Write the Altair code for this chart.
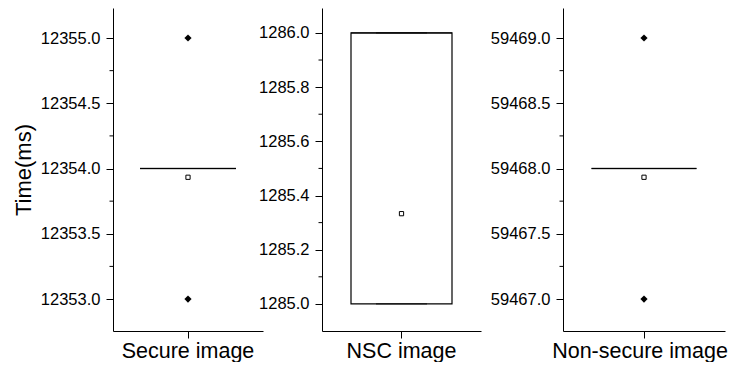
import altair as alt
import pandas as pd

# ---- data ----
categories = ["Secure image", "NSC image", "Non-secure image"]
q1_vals = [12354.0, 1285.0, 59468.0]
median_vals = [12354.0, 1286.0, 59468.0]
q3_vals = [12354.0, 1286.0, 59468.0]
whisker_low = [12354.0, 1285.0, 59468.0]
whisker_high = [12354.0, 1286.0, 59468.0]
mean_vals = [12353.933, 1285.333, 59467.933]
outlier_cats = ["Secure image", "Secure image", "Non-secure image", "Non-secure image"]
outlier_vals = [12355.0, 12353.0, 59469.0, 59467.0]

# axis settings per panel
y_domains = [[12352.755, 12355.23], [1284.90, 1286.092], [59466.755, 59469.23]]
major_ticks = [
    [12353.0, 12353.5, 12354.0, 12354.5, 12355.0],
    [1285.0, 1285.2, 1285.4, 1285.6, 1285.8, 1286.0],
    [59467.0, 59467.5, 59468.0, 59468.5, 59469.0],
]
minor_ticks = [
    [12353.25, 12353.75, 12354.25, 12354.75],
    [1285.1, 1285.3, 1285.5, 1285.7, 1285.9],
    [59467.25, 59467.75, 59468.25, 59468.75],
]

FONT = "Liberation Sans"
panel_view_w = [150, 182, 162]
panel_axis_w = [150, 159, 162]
box_w = [96, 101, 105]
cap_w = [49, 51, 53]
label_off = [0, 0, -4]
H = 323


def panel(i):
    cat = categories[i]
    box_df = pd.DataFrame({
        "cat": [cat], "q1": [q1_vals[i]], "q3": [q3_vals[i]], "med": [median_vals[i]],
        "lo": [whisker_low[i]], "hi": [whisker_high[i]], "mean": [mean_vals[i]],
    })
    out_df = pd.DataFrame({"cat": outlier_cats, "v": outlier_vals})
    out_df = out_df[out_df["cat"] == cat]
    minor_df = pd.DataFrame({"v": minor_ticks[i]})

    x_enc = alt.X("cat:N", scale=alt.Scale(domain=[cat], range=[0, panel_axis_w[i]]),
                  axis=alt.Axis(title=None, labelAngle=0, labelFontSize=21.5, tickSize=7,
                                labelPadding=2, labelFont=FONT, labelOffset=label_off[i]))
    yscale = alt.Scale(domain=y_domains[i], nice=False, zero=False)
    y_axis = alt.Axis(values=major_ticks[i], format=".1f", tickSize=7, labelFontSize=16.5,
                      labelPadding=6, titleFontSize=22, titleFontWeight="normal",
                      titlePadding=5, labelFont=FONT, titleFont=FONT,
                      title="Time(ms)" if i == 0 else None)

    def Y(field):
        return alt.Y(f"{field}:Q", scale=yscale, axis=y_axis,
                     title="Time(ms)" if i == 0 else None)

    base = alt.Chart(box_df).encode(x=x_enc)
    box = base.mark_bar(size=box_w[i], fill="white", stroke="black", strokeWidth=1.2).encode(
        y=Y("q1"), y2="q3")
    wl = base.mark_rule(color="black").encode(y=Y("lo"), y2="q1")
    wh = base.mark_rule(color="black").encode(y=Y("q3"), y2="hi")
    cap_lo = base.mark_tick(size=cap_w[i], thickness=1.2, color="black").encode(y=Y("lo"))
    cap_hi = base.mark_tick(size=cap_w[i], thickness=1.2, color="black").encode(y=Y("hi"))
    med = base.mark_tick(size=box_w[i], thickness=1.5, color="black").encode(y=Y("med"))
    mean = base.mark_point(shape="square", size=18, fill="white", stroke="black",
                           strokeWidth=1, opacity=1).encode(y=Y("mean"))
    outl = alt.Chart(out_df).mark_point(shape="diamond", size=52, filled=True,
                                        color="black", opacity=1).encode(x=x_enc, y=Y("v"))
    minor = alt.Chart(minor_df).mark_rule(color="black", strokeWidth=1).encode(
        y=Y("v"), x=alt.value(0), x2=alt.value(-3.5))

    return alt.layer(box, wl, wh, cap_lo, cap_hi, med, outl, mean, minor).properties(
        width=panel_view_w[i], height=H)


chart = alt.hconcat(panel(0), panel(1), panel(2), spacing=59, bounds="flush").properties(
    padding={"left": 4, "top": 0, "right": 0, "bottom": 0}
).configure_view(stroke=None).configure_axis(
    grid=False, domainColor="black", tickColor="black", labelColor="black",
    titleColor="black", domainWidth=1, tickWidth=1
)

chart.save("out.html", embed_options={"renderer": "svg", "actions": False})
